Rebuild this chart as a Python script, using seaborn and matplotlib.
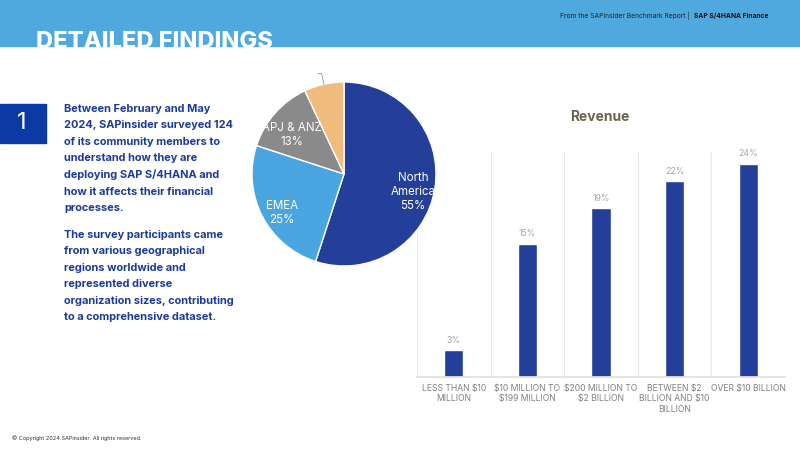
import numpy as np
import pandas as pd
import seaborn as sns
import matplotlib.pyplot as plt
from matplotlib.patches import Rectangle

# datos
regiones = ['North\nAmerica', 'EMEA', 'APJ & ANZ', 'Other']
region_pct = [55, 25, 13, 7]
region_colores = ['#233f9a', '#4aa6e0', '#8a8a8a', '#f0bc7e']
mostrar_etiqueta = [True, True, True, False]

ingresos = ['LESS THAN $10\nMILLION', '$10 MILLION TO\n$199 MILLION', '$200 MILLION TO\n$2 BILLION',
            'BETWEEN $2\nBILLION AND $10\nBILLION', 'OVER $10 BILLION']
ingresos_pct = [3, 15, 19, 22, 24]

W, H = 800, 450
sns.set_theme(style='white')
plt.rcParams['font.family'] = ['Inter', 'DejaVu Sans']
plt.rcParams['text.parse_math'] = False

fig = plt.figure(figsize=(8, 4.5), dpi=100)
fig.patch.set_facecolor('white')


def caja(x0, y0, x1, y1):
    # pixeles (arriba-izquierda) -> coords de figura
    return [x0 / W, 1 - y1 / H, (x1 - x0) / W, (y1 - y0) / H]


def px(x, y):
    return x / W, 1 - y / H


# --- cabecera ---
fig.patches.append(Rectangle((0, 1 - 46 / H), 1, 46 / H, transform=fig.transFigure,
                             color='#4fa9df', zorder=0))
fig.text(*px(36, 48), 'DETAILED FINDINGS', color='white', fontsize=17, fontweight='heavy',
         ha='left', va='baseline', zorder=1)
fig.text(*px(690, 16), 'From the SAPinsider Benchmark Report |', fontsize=4.8, color='#222222',
         ha='right', va='center')
fig.text(*px(694, 16), 'SAP S/4HANA Finance', fontsize=4.8, color='#111111', fontweight='bold',
         ha='left', va='center')

# --- bloque de texto izquierdo ---
fig.patches.append(Rectangle(px(0, 143), 46 / W, 39 / H, transform=fig.transFigure,
                             color='#0b3aa6', zorder=1))
fig.text(*px(22, 123), '1', color='white', fontsize=17, ha='center', va='center', zorder=2)

parrafo1 = ('Between February and May\n2024, SAPinsider surveyed 124\nof its community members to\n'
            'understand how they are\ndeploying SAP S/4HANA and\nhow it affects their financial\nprocesses.')
parrafo2 = ('The survey participants came\nfrom various geographical\nregions worldwide and\n'
            'represented diverse\norganization sizes, contributing\nto a comprehensive dataset.')
fig.text(*px(64, 104), parrafo1, color='#1c3a9c', fontsize=7.9, fontweight='bold',
         ha='left', va='top', linespacing=1.8)
fig.text(*px(64, 230), parrafo2, color='#1c3a9c', fontsize=7.9, fontweight='bold',
         ha='left', va='top', linespacing=1.8)

fig.text(*px(12, 438), '© Copyright 2024 SAPinsider. All rights reserved.', fontsize=4,
         color='#333333', ha='left', va='center')

# --- barras ---
ax_b = fig.add_axes(caja(417, 152, 785, 377))
df = pd.DataFrame({'cat': ingresos, 'pct': ingresos_pct})
sns.barplot(data=df, x='cat', y='pct', ax=ax_b, color='#233f9a', width=0.26, saturation=1)
ax_b.set_ylim(0, 25.3)
ax_b.set_xlim(-0.5, len(ingresos) - 0.5)
for i in range(len(ingresos) + 1):
    ax_b.axvline(i - 0.5, color='#e8e8e8', lw=0.8, zorder=0)
for i, v in enumerate(ingresos_pct):
    ax_b.text(i, v + 0.6, f'{v}%', ha='center', va='bottom', fontsize=6.3, color='#a8a8a8')
ax_b.set_yticks([])
ax_b.set_xlabel('')
ax_b.set_ylabel('')
ax_b.tick_params(axis='x', length=0, pad=5, labelsize=6.2, labelcolor='#808080')
for lab in ax_b.get_xticklabels():
    lab.set_multialignment('center')
for s in ['top', 'right', 'left']:
    ax_b.spines[s].set_visible(False)
ax_b.spines['bottom'].set_color('#e0e0e0')
ax_b.set_facecolor('none')
fig.text(*px(600, 117), 'Revenue', ha='center', va='center', fontsize=10, fontweight='bold',
         color='#6a6450')

# --- pastel (encima de la rejilla de barras) ---
ax_p = fig.add_axes(caja(252, 82, 436, 266))
ax_p.set_zorder(3)
etiquetas = [f'{r}\n{p}%' if m else '' for r, p, m in zip(regiones, region_pct, mostrar_etiqueta)]
wedges, textos = ax_p.pie(region_pct, labels=etiquetas, colors=region_colores, startangle=90,
                          counterclock=False, labeldistance=0.76,
                          wedgeprops=dict(edgecolor='white', linewidth=1),
                          textprops=dict(color='white', fontsize=8.3, ha='center', va='center'))
for t in textos:
    t.set_multialignment('center')
    x, y = t.get_position()
    t.set_position((x, y - 0.08))
ax_p.set_xlim(-1, 1)
ax_p.set_ylim(-1, 1)
ax_p.set_aspect('equal')
ax_p.axis('off')
# linea guia del segmento sin etiqueta
w = wedges[3]
ang = np.deg2rad((w.theta1 + w.theta2) / 2)
ax_p.plot([np.cos(ang), np.cos(ang) * 1.12, np.cos(ang) * 1.12 - 0.04],
          [np.sin(ang), np.sin(ang) * 1.12, np.sin(ang) * 1.12],
          color='#999999', lw=0.6, clip_on=False)

fig.savefig('out.png', dpi=100)
